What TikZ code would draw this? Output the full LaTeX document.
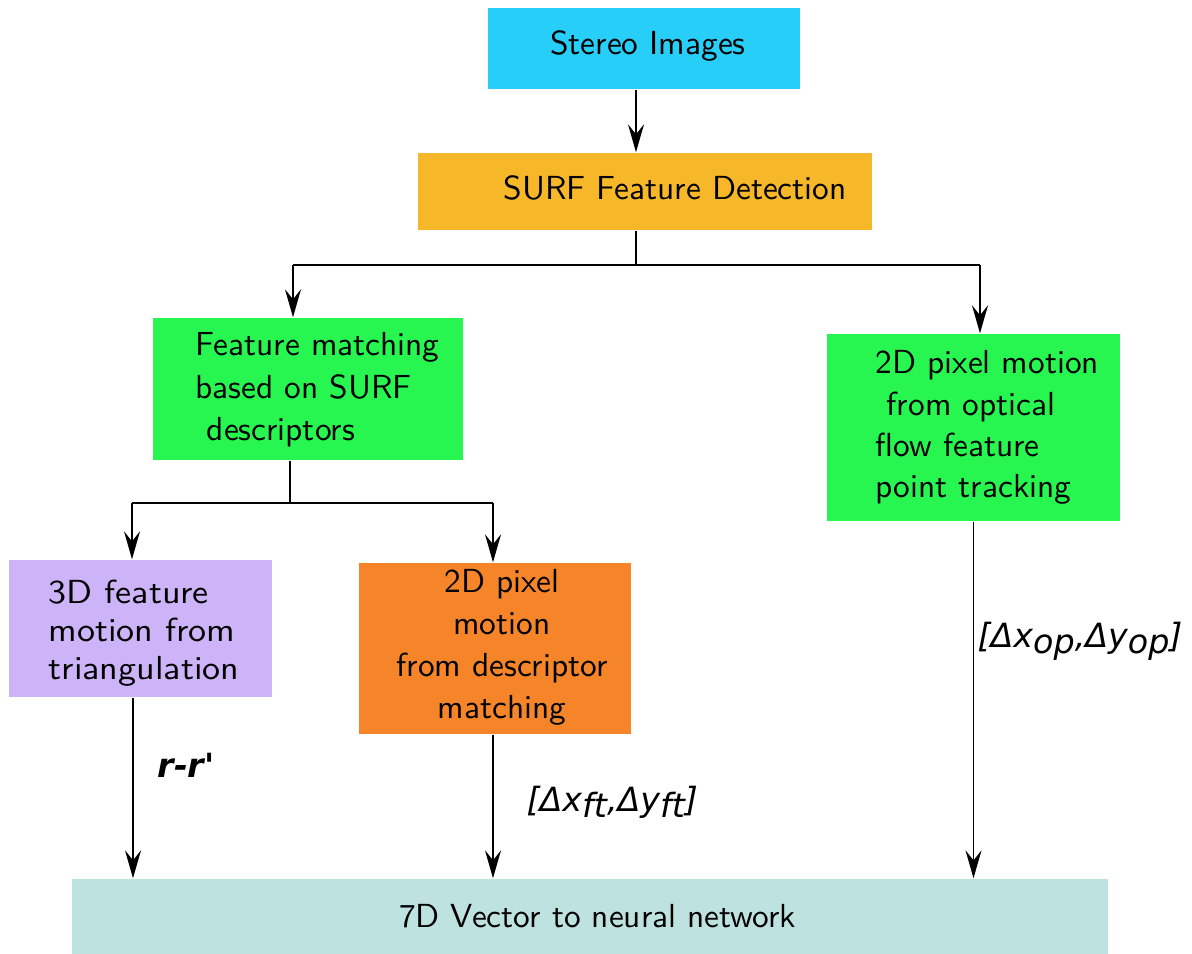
\documentclass[tikz,border=0pt]{standalone}
\usepackage{fontspec}
\newfontfamily\lblfont{DejaVu Sans}
\usetikzlibrary{arrows.meta,fit}
\definecolor{cStereo}{HTML}{27CEF8}
\definecolor{cSurf}{HTML}{F6B828}
\definecolor{cGreen}{HTML}{28F650}
\definecolor{cPurple}{HTML}{CDB4F8}
\definecolor{cOrange}{HTML}{F6852A}
\definecolor{cBottom}{HTML}{BDE2E0}
\begin{document}
\begin{tikzpicture}[x=0.3pt, y=-0.3pt, line width=0.4pt,
  box/.style={rectangle, draw=none, inner sep=0pt},
  arr/.style={-{Stealth[length=8.4pt,width=4.8pt,inset=3pt]}},
  txt/.style={inner sep=0pt, font=\sffamily\fontsize{10}{12.6}\selectfont},
  lbl/.style={inner sep=0pt, font=\lblfont\itshape\fontsize{10}{12}\selectfont}]
\useasboundingbox (0,0) rectangle (1192,954);

% boxes
\node[box, fill=cStereo, fit={(488,8) (800,89)}]   (stereo) {};
\node[box, fill=cSurf,   fit={(418,153) (872,230)}] (surf) {};
\node[box, fill=cGreen,  fit={(153,318) (463,460)}] (fm) {};
\node[box, fill=cGreen,  fit={(827,334) (1120,521)}] (of) {};
\node[box, fill=cPurple, fit={(9,560) (272,697)}]   (tri) {};
\node[box, fill=cOrange, fit={(359,563) (631,734)}] (dm) {};
\node[box, fill=cBottom, fit={(72,879) (1108,954)}] (vec) {};

% box texts
\node[txt, anchor=base] (tStereo) at (648,55) {Stereo Images};
\node[txt, anchor=base west] (tSurf) at (503,200) {SURF Feature Detection};
\node[txt, anchor=north west, align=left, font=\sffamily\fontsize{10}{12.75}\selectfont]
  (tFm) at (195,332) {Feature matching\\based on SURF\\\hspace*{3.33pt}descriptors};
\node[txt, anchor=north west, align=left, font=\sffamily\fontsize{10}{12.4}\selectfont]
  (tOf) at (875,350) {2D pixel motion\\\hspace*{3.33pt}from optical\\flow feature\\point tracking};
\node[txt, anchor=north west, align=left, xscale=1.08, transform shape,
  font=\sffamily\fontsize{10}{11.4}\selectfont]
  (tTri) at (48,579) {3D feature\\motion from\\triangulation};
\node[txt, anchor=north, align=center, font=\sffamily\fontsize{10}{12.6}\selectfont]
  (tDm) at (502,569) {2D pixel\\motion\\from descriptor\\matching};
\node[txt, anchor=base] (tVec) at (597.5,928) {7D Vector to neural network};

% junctions
\coordinate (j1)  at (636,265);
\coordinate (j1l) at (293,265);
\coordinate (j1r) at (980,265);
\coordinate (j2)  at (290,503);
\coordinate (j2l) at (132,503);
\coordinate (j2r) at (493,503);

% connectors
\draw[arr] (stereo.south -| j1) -- (surf.north -| j1);
\draw (surf.south -| j1) -- (j1);
\draw (j1l) -- (j1r);
\draw[arr] (j1l) -- (fm.north -| j1l);
\draw[arr] (j1r) -- (of.north -| j1r);
\draw (fm.south -| j2) -- (j2);
\draw (j2l) -- (j2r);
\draw[arr] (j2l) -- (tri.north -| j2l);
\draw[arr] (j2r) -- (dm.north -| j2r);
\draw[arr] ([xshift=-2.25pt]tri.south) -- ([xshift=-2.25pt]tri.south |- vec.north);
\draw[arr] ([xshift=-0.6pt]dm.south) -- ([xshift=-0.6pt]dm.south |- vec.north);
\draw[arr] (of.south) -- (of.south |- vec.north);

% edge labels
\node[lbl, anchor=base west, font=\lblfont\bfseries\itshape\fontsize{10}{12}\selectfont]
  (lRr) at (157,778) {r-r'};
\node[lbl, anchor=base west] (lFt) at (526,812)
  {[Δx\raisebox{-1.8pt}{ft},Δy\raisebox{-1.8pt}{ft}]};
\node[lbl, anchor=base west] (lOp) at (977,648)
  {[Δx\raisebox{-1.8pt}{op},Δy\raisebox{-1.8pt}{op}]};
\end{tikzpicture}
\end{document}
